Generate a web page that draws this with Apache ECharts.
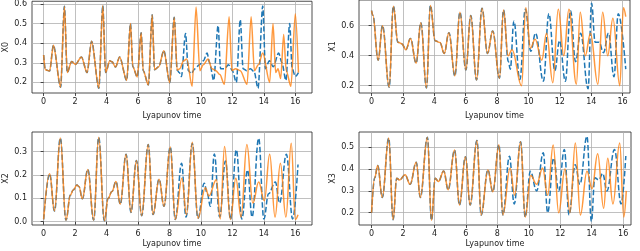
<!DOCTYPE html>
<html><head><meta charset="utf-8">
<script src="https://cdn.jsdelivr.net/npm/echarts@6/dist/echarts.min.js"></script>
<style>html,body{margin:0;padding:0;background:#fff}#c{width:640px;height:251px}</style>
</head><body><div id="c"></div>
<script>
// ---- data: [Lyapunov time, value] ----
const xTicks = [0, 2, 4, 6, 8, 10, 12, 14, 16];
const yTicks0 = [0.2, 0.3, 0.4, 0.5, 0.6];
const yTicks1 = [0.2, 0.4, 0.6];
const yTicks2 = [0.0, 0.1, 0.2, 0.3];
const yTicks3 = [0.2, 0.3, 0.4, 0.5];
const yNames = ['X0', 'X1', 'X2', 'X3'];

const x0Shared = [[0,0.34],[0.1,0.265],[0.38,0.258],[0.62,0.39],[1.08,0.175],[1.32,0.588],[1.5,0.25],[1.78,0.307],[2.03,0.292],[2.4,0.33],[2.76,0.25],[3.05,0.41],[3.51,0.17],[3.76,0.592],[3.94,0.25],[4.21,0.31],[4.35,0.305],[4.57,0.278],[4.83,0.33],[5.28,0.21],[5.52,0.50],[5.67,0.28],[5.95,0.228],[6.2,0.453],[6.33,0.26],[6.66,0.187],[6.9,0.545],[7.05,0.265],[7.32,0.28],[7.64,0.362],[8.02,0.198],[8.3,0.533],[8.49,0.262]];
const x0TrueTail = [[8.62,0.25],[8.76,0.23],[9.02,0.45],[9.2,0.26],[9.38,0.245],[9.62,0.27],[9.9,0.29],[10.15,0.31],[10.39,0.35],[10.55,0.3],[10.81,0.21],[11.09,0.49],[11.25,0.27],[11.5,0.27],[11.75,0.29],[12.0,0.26],[12.25,0.2],[12.5,0.52],[12.68,0.27],[12.9,0.26],[13.15,0.27],[13.38,0.255],[13.63,0.17],[13.93,0.59],[14.1,0.27],[14.35,0.31],[14.6,0.28],[14.94,0.35],[15.15,0.3],[15.4,0.21],[15.64,0.5],[15.8,0.27],[16.0,0.23],[16.2,0.25]];
const x0PredTail = [[8.65,0.27],[8.9,0.31],[9.1,0.32],[9.44,0.18],[9.69,0.585],[9.93,0.26],[10.15,0.29],[10.45,0.32],[10.7,0.27],[10.95,0.26],[11.2,0.24],[11.49,0.19],[11.79,0.535],[11.97,0.26],[12.2,0.27],[12.5,0.26],[12.93,0.19],[13.19,0.535],[13.4,0.26],[13.65,0.29],[13.93,0.35],[14.37,0.2],[14.58,0.5],[14.75,0.25],[14.9,0.27],[15.07,0.22],[15.26,0.445],[15.42,0.26],[15.72,0.18],[16.0,0.55],[16.2,0.25]];

const x1Shared = [[0,0.70],[0.08,0.67],[0.42,0.37],[0.7,0.60],[1.12,0.19],[1.39,0.73],[1.68,0.49],[1.92,0.48],[2.19,0.44],[2.48,0.515],[2.84,0.35],[3.14,0.62],[3.5,0.185],[3.75,0.735],[4.05,0.5],[4.36,0.487],[4.63,0.415],[4.93,0.553],[5.31,0.265],[5.63,0.69],[6.01,0.305],[6.32,0.667],[6.69,0.238],[7.04,0.716],[7.39,0.415],[7.72,0.565],[8.15,0.25],[8.41,0.704]];
const x1TrueTail = [[8.72,0.36],[8.84,0.31],[9.07,0.63],[9.45,0.24],[9.8,0.71],[10.15,0.43],[10.45,0.55],[10.95,0.23],[11.3,0.68],[11.68,0.30],[11.98,0.5],[12.35,0.23],[12.68,0.70],[13.0,0.36],[13.32,0.55],[13.8,0.18],[14.02,0.75],[14.25,0.49],[14.5,0.49],[14.78,0.42],[15.1,0.55],[15.45,0.26],[15.72,0.68],[16.2,0.31]];
const x1PredTail = [[8.7,0.40],[8.95,0.44],[9.56,0.2],[9.83,0.72],[10.13,0.45],[10.42,0.51],[10.85,0.37],[11.15,0.55],[11.55,0.22],[11.9,0.71],[12.25,0.40],[12.58,0.71],[13.05,0.21],[13.3,0.69],[13.62,0.40],[13.95,0.55],[14.42,0.21],[14.73,0.69],[15.05,0.40],[15.38,0.65],[15.82,0.2],[16.05,0.72],[16.2,0.66]];

const x2Shared = [[0,0.01],[0.38,0.205],[0.69,0.046],[1.06,0.358],[1.42,0.006],[1.7,0.114],[1.88,0.136],[2.12,0.157],[2.25,0.15],[2.46,0.098],[2.81,0.224],[3.18,0.007],[3.5,0.361],[3.86,0.004],[4.1,0.1],[4.34,0.129],[4.6,0.172],[4.87,0.075],[5.24,0.289],[5.55,0.04],[5.9,0.262],[6.23,0.026],[6.65,0.33],[6.95,0.031],[7.34,0.182],[7.65,0.066],[8.05,0.32],[8.37,0.01]];
const x2TrueTail = [[8.77,0.25],[9.05,0.02],[9.45,0.335],[9.81,0.015],[10.21,0.165],[10.4,0.12],[10.6,0.066],[10.85,0.29],[11.19,0.02],[11.56,0.26],[11.88,0.01],[12.25,0.308],[12.6,0.012],[12.96,0.221],[13.25,0.02],[13.67,0.357],[14.0,0.012],[14.3,0.12],[14.73,0.17],[15.0,0.08],[15.43,0.289],[15.83,0.012],[16.17,0.245]];
const x2PredTail = [[8.79,0.186],[9.08,0.03],[9.45,0.34],[9.81,0.015],[10.28,0.145],[10.5,0.11],[10.98,0.18],[11.23,0.012],[11.5,0.322],[11.87,0.01],[12.22,0.186],[12.55,0.02],[12.92,0.331],[13.3,0.08],[13.67,0.17],[14.03,0.09],[14.37,0.289],[14.71,0.02],[15.05,0.25],[15.4,0.02],[15.74,0.336],[16.0,0.01],[16.17,0.03]];

const x3Shared = [[0,0.2],[0.2,0.36],[0.39,0.416],[0.68,0.27],[1.09,0.542],[1.37,0.168],[1.6,0.358],[1.78,0.35],[2.13,0.374],[2.45,0.33],[2.84,0.431],[3.1,0.27],[3.55,0.546],[3.81,0.165],[4.05,0.358],[4.25,0.343],[4.59,0.391],[4.87,0.305],[5.28,0.487],[5.59,0.235],[5.97,0.457],[6.27,0.235],[6.7,0.531],[6.97,0.189],[7.4,0.396],[7.71,0.296],[8.1,0.511],[8.35,0.19]];
const x3TrueTail = [[8.77,0.459],[9.07,0.24],[9.48,0.525],[9.77,0.18],[10.1,0.39],[10.5,0.3],[10.92,0.475],[11.2,0.2],[11.58,0.45],[11.9,0.3],[12.26,0.49],[12.56,0.19],[12.95,0.42],[13.25,0.33],[13.7,0.55],[13.98,0.16],[14.2,0.36],[14.45,0.35],[14.7,0.38],[14.97,0.3],[15.45,0.49],[15.87,0.24],[16.17,0.46]];
const x3PredTail = [[8.81,0.405],[9.1,0.28],[9.48,0.525],[9.77,0.18],[10.13,0.37],[10.5,0.33],[10.88,0.405],[11.2,0.28],[11.55,0.51],[11.9,0.2],[12.3,0.4],[12.62,0.2],[12.96,0.52],[13.28,0.19],[13.7,0.39],[14.02,0.31],[14.38,0.47],[14.76,0.22],[15.02,0.45],[15.35,0.24],[15.78,0.52],[16.04,0.18],[16.2,0.3]];

// ---- layout ----
const FONT = 'DejaVu Sans';
const TXT = '#222';
const grids = [
  {left: 32, top: 0, width: 280, height: 93},
  {left: 359, top: 0, width: 271, height: 93},
  {left: 32, top: 132, width: 280, height: 93},
  {left: 359, top: 132, width: 272, height: 93}
];
const xNameGaps = [19, 19, 15, 15];
const xRanges = [[-0.74, 17.06], [-0.8, 16.47], [-0.74, 17.06], [-0.8, 16.5]];
const yRanges = [[0.146, 0.614], [0.151, 0.771], [-0.014, 0.384], [0.1436, 0.570]];
const yTickSets = [yTicks0, yTicks1, yTicks2, yTicks3];
const trueData = [x0Shared.concat(x0TrueTail), x1Shared.concat(x1TrueTail), x2Shared.concat(x2TrueTail), x3Shared.concat(x3TrueTail)];
const predData = [x0Shared.concat(x0PredTail), x1Shared.concat(x1PredTail), x2Shared.concat(x2PredTail), x3Shared.concat(x3PredTail)];
const smoothing = [0.3, 0.4, 0.4, 0.4];

const option = {
  animation: false,
  grid: grids.map(g => Object.assign({show: true, borderColor: '#222', borderWidth: 0.8, containLabel: false}, g)),
  xAxis: grids.map((g, i) => ({
    type: 'value', gridIndex: i, min: xRanges[i][0], max: xRanges[i][1],
    name: 'Lyapunov time', nameLocation: 'middle', nameGap: xNameGaps[i],
    nameTextStyle: {fontSize: 8, color: TXT, fontFamily: FONT},
    axisLine: {show: false},
    axisTick: {show: true, inside: false, length: 3, lineStyle: {color: TXT, width: 0.8}, customValues: xTicks},
    axisLabel: {customValues: xTicks, fontSize: 8, margin: 5, color: TXT, fontFamily: FONT, formatter: v => String(v)},
    splitLine: {show: true, lineStyle: {color: '#b0b0b0', width: 0.8}}
  })),
  yAxis: grids.map((g, i) => ({
    type: 'value', gridIndex: i, min: yRanges[i][0], max: yRanges[i][1],
    name: yNames[i], nameLocation: 'middle', nameGap: 22, nameRotate: 90,
    nameTextStyle: {fontSize: 8, color: TXT, fontFamily: FONT},
    axisLine: {show: false},
    axisTick: {show: true, inside: false, length: 3, lineStyle: {color: TXT, width: 0.8}, customValues: yTickSets[i]},
    axisLabel: {customValues: yTickSets[i], fontSize: 8, margin: 5, color: TXT, fontFamily: FONT, formatter: v => v.toFixed(1)},
    splitLine: {show: true, lineStyle: {color: '#b0b0b0', width: 0.8}}
  })),
  series: []
};
for (let i = 0; i < 4; i++) {
  option.series.push({
    type: 'line', xAxisIndex: i, yAxisIndex: i, data: trueData[i], showSymbol: false, symbol: 'none',
    smooth: smoothing[i], smoothMonotone: 'x',
    lineStyle: {color: '#1f77b4', width: 1.5, type: [5.5, 2.4]}, z: 2, silent: true
  });
}
for (let i = 0; i < 4; i++) {
  option.series.push({
    type: 'line', xAxisIndex: i, yAxisIndex: i, data: predData[i], showSymbol: false, symbol: 'none',
    smooth: smoothing[i], smoothMonotone: 'x',
    lineStyle: {color: '#ff7f0e', width: 1.5, opacity: 0.8}, z: 3, silent: true
  });
}
const chart = echarts.init(document.getElementById('c'), null, {renderer: 'canvas'});
chart.setOption(option);
</script></body></html>
